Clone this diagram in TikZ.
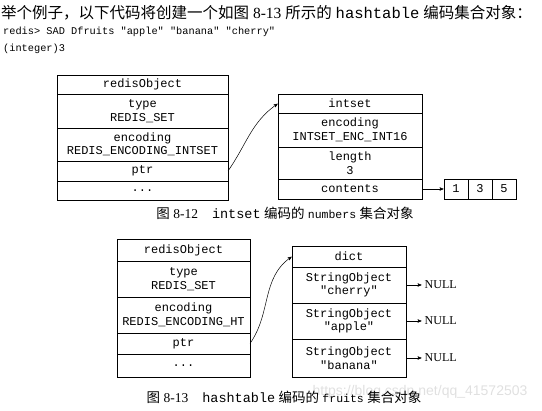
\documentclass[tikz,border=0pt]{standalone}
\usepackage{fontspec}
\setmainfont{Liberation Serif}
\setmonofont{Liberation Mono}
\setsansfont{Liberation Sans}
\newfontfamily\cjk{Noto Sans CJK SC}
\usetikzlibrary{arrows,positioning}

\begin{document}
\begin{tikzpicture}[x=1pt,y=-1pt,>=stealth',
    cell/.style={draw,rectangle,line width=0.6pt,outer sep=0pt,inner sep=0pt,
                 align=center,font=\fontsize{12}{13.5}\selectfont\ttfamily},
    objA/.style={cell,minimum width=171pt},
    intA/.style={cell,minimum width=144pt},
    objB/.style={cell,minimum width=133pt},
    dictB/.style={cell,minimum width=114pt},
    arr/.style={cell,minimum width=24pt,minimum height=20pt},
    null/.style={anchor=west,inner sep=2.5pt,font=\fontsize{12}{14}\selectfont},
    caption/.style={inner sep=0pt,font=\fontsize{13.5}{15}\selectfont},
    link/.style={->,line width=0.5pt,shorten >=0.5pt}]
    \useasboundingbox (0,0) rectangle (542,411);
    % text above the pictures
    \node[anchor=west,inner sep=0pt,font=\fontsize{15.5}{17}\selectfont] (intro) at (1,13)
        {{\cjk 举个例子，以下代码将创建一个如图} 8-13 {\cjk 所示的} {\ttfamily hashtable} {\cjk 编码集合对象：}};
    \node[anchor=west,inner sep=0pt,font=\fontsize{10.3}{12}\selectfont\ttfamily] (cmd) at (3,32)
        {redis> SAD Dfruits "apple" "banana" "cherry"};
    \node[anchor=west,inner sep=0pt,font=\fontsize{10.3}{12}\selectfont\ttfamily] (res) at (3,49)
        {(integer)3};

    % figure 8-12
    \node[objA,minimum height=19pt,anchor=north] (o1) at (142.5,75) {redisObject};
    \node[objA,minimum height=34pt] (o2) [below=0pt of o1] {type\\REDIS\_SET};
    \node[objA,minimum height=33pt] (o3) [below=0pt of o2] {encoding\\REDIS\_ENCODING\_INTSET};
    \node[objA,minimum height=20pt] (o4) [below=0pt of o3] {ptr};
    \node[objA,minimum height=19pt] (o5) [below=0pt of o4] {...};

    \node[intA,minimum height=19pt,anchor=north] (i1) at (350,94) {intset};
    \node[intA,minimum height=34pt] (i2) [below=0pt of i1] {encoding\\INTSET\_ENC\_INT16};
    \node[intA,minimum height=32pt] (i3) [below=0pt of i2] {length\\3};
    \node[intA,minimum height=20pt] (i4) [below=0pt of i3] {contents};

    \node[arr] (a1) at (456,189) {1};
    \node[arr] (a2) [right=0pt of a1] {3};
    \node[arr] (a3) [right=0pt of a2] {5};

    \draw[link] (o4.east) to[out=55,in=215] (i1.west);
    \draw[link] (i4.east) -- (a1.west);

    \node[caption] (cap1) at (285,213)
        {{\cjk 图} 8-12\hspace{14pt}{\ttfamily intset} {\cjk 编码的} {\fontsize{11.5}{13}\selectfont\ttfamily numbers} {\cjk 集合对象}};

    % figure 8-13
    \node[objB,minimum height=22pt,anchor=north] (b1) at (183.5,239) {redisObject};
    \node[objB,minimum height=36pt] (b2) [below=0pt of b1] {type\\REDIS\_SET};
    \node[objB,minimum height=36pt] (b3) [below=0pt of b2] {encoding\\REDIS\_ENCODING\_HT};
    \node[objB,minimum height=21pt] (b4) [below=0pt of b3] {ptr};
    \node[objB,minimum height=23pt] (b5) [below=0pt of b4] {...};

    \node[dictB,minimum height=21pt,anchor=north] (d1) at (349,246) {dict};
    \node[dictB,minimum height=36pt] (d2) [below=0pt of d1] {StringObject\\"cherry"};
    \node[dictB,minimum height=36pt] (d3) [below=0pt of d2] {StringObject\\"apple"};
    \node[dictB,minimum height=38pt] (d4) [below=0pt of d3] {StringObject\\"banana"};

    \node[null] (n1) at (422,285) {NULL};
    \node[null] (n2) at (422,321) {NULL};
    \node[null] (n3) at (422,358) {NULL};

    \draw[link] (b4.east) to[out=55,in=215] (d1.west);
    \draw[link] (d2.east) -- (n1.west);
    \draw[link] (d3.east) -- (n2.west);
    \draw[link] (d4.east) -- (n3.west);

    \node[inner sep=0pt,text=black!12,font=\fontsize{14}{16}\selectfont\sffamily] (mark) at (420,392)
        {https://blog.csdn.net/qq\_41572503};
    \node[caption] (cap2) at (284,397)
        {{\cjk 图} 8-13\hspace{14pt}{\ttfamily hashtable} {\cjk 编码的} {\fontsize{11.5}{13}\selectfont\ttfamily fruits} {\cjk 集合对象}};
\end{tikzpicture}
\end{document}
